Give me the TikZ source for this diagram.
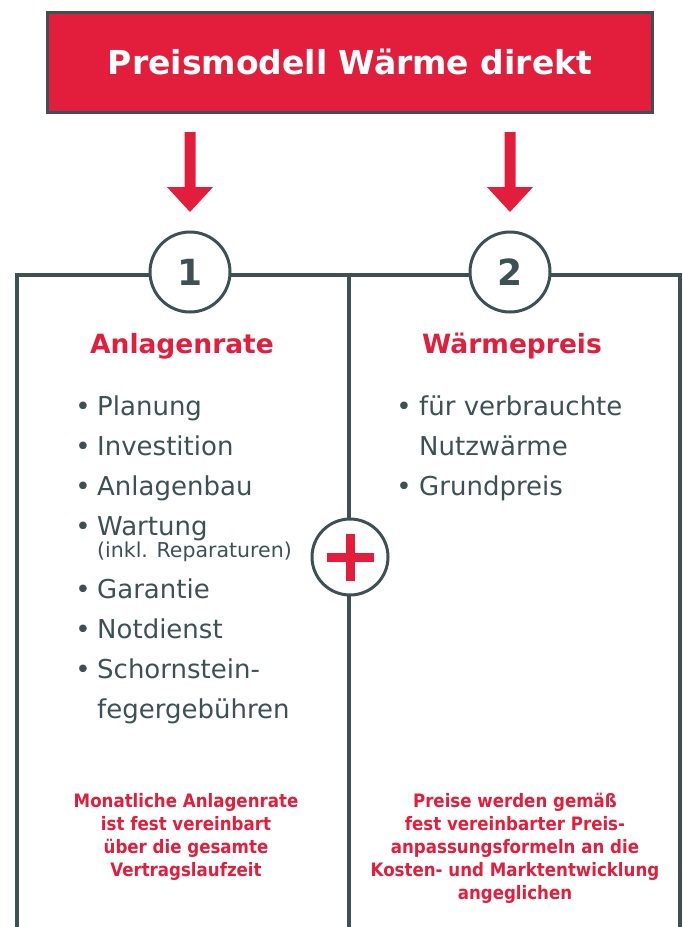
\documentclass[tikz,border=0pt]{standalone}
\usepackage{fontspec}
\setmainfont{DejaVu Sans}
\newfontfamily\condfont{DejaVu Sans Condensed}
\definecolor{wred}{RGB}{227,30,60}
\definecolor{wgrey}{RGB}{62,80,83}
\begin{document}
\begin{tikzpicture}[x=1pt,y=-1pt,
  frameline/.style={draw=wgrey,line width=3.5pt},
  titlebox/.style={draw=wgrey,fill=wred,line width=3pt,minimum width=605pt,minimum height=100pt,inner sep=0pt},
  titletext/.style={text=white,font=\bfseries\fontsize{33}{38}\selectfont,inner sep=0pt,anchor=base},
  numcirc/.style={circle,draw=wgrey,fill=white,line width=3pt,minimum size=80pt,inner sep=0pt,text=wgrey,font=\bfseries\fontsize{36}{40}\selectfont},
  pluscirc/.style={circle,draw=wgrey,fill=white,line width=3pt,minimum size=76pt,inner sep=0pt},
  head/.style={text=wred,font=\bfseries\fontsize{26.5}{30}\selectfont,inner sep=0pt,anchor=base},
  item/.style={text=wgrey,font=\fontsize{26}{30}\selectfont,inner sep=0pt,anchor=base west},
  smallitem/.style={text=wgrey,font=\fontsize{20.5}{22}\selectfont,inner sep=0pt,anchor=base west},
  bul/.style={text=wgrey,font=\fontsize{26}{30}\selectfont,inner sep=0pt,anchor=base},
  note/.style={text=wred,font=\condfont\bfseries\fontsize{18.5}{23}\selectfont,align=center,inner sep=0pt,anchor=base},
  arrowshape/.style={fill=wred,draw=none}
]
\useasboundingbox (0,0) rectangle (683,927);
% title
\node[titlebox] (title) at (349.5,62) {};
\node[titletext] (titlet) at (350,74) {Preismodell Wärme direkt};
% arrows
\coordinate (a1) at (190,132);
\coordinate (a2) at (510,132);
\foreach \a in {a1,a2}{
  \fill[arrowshape] ([xshift=-5.5pt]\a) -- ([xshift=5.5pt]\a) -- ([xshift=5.5pt,yshift=-55pt]\a) -- ([xshift=23pt,yshift=-55pt]\a) -- ([yshift=-80pt]\a) -- ([xshift=-23pt,yshift=-55pt]\a) -- ([xshift=-5.5pt,yshift=-55pt]\a) -- cycle;
}
% frame
\draw[frameline] (17,927) -- (17,275) -- (680,275) -- (680,927);
\draw[frameline] (349,275) -- (349,927);
% number circles
\node[numcirc] (c1) at (190,272) {1};
\node[numcirc] (c2) at (510,272) {2};
% plus
\node[pluscirc] (plus) at (350,557) {};
\draw[wred,line width=9pt] ([xshift=-23.5pt]plus.center) -- ([xshift=23.5pt]plus.center);
\draw[wred,line width=9pt] ([yshift=-23.5pt]plus.center) -- ([yshift=23.5pt]plus.center);
% headers
\node[head] (h1) at (182,353) {Anlagenrate};
\node[head] (h2) at (512,353) {Wärmepreis};
% left items
\node[bul] (b1) at (83,415) {•};
\node[item] (l1) at (97,415) {Planung};
\node[bul] (b2) at (83,455) {•};
\node[item] (l2) at (97,455) {Investition};
\node[bul] (b3) at (83,495) {•};
\node[item] (l3) at (97,495) {Anlagenbau};
\node[bul] (b4) at (83,535) {•};
\node[item] (l4) at (97,535) {Wartung};
\node[smallitem] (l4b) at (97,557) {(inkl. Reparaturen)};
\node[bul] (b5) at (83,598) {•};
\node[item] (l5) at (97,598) {Garantie};
\node[bul] (b6) at (83,638) {•};
\node[item] (l6) at (97,638) {Notdienst};
\node[bul] (b7) at (83,678) {•};
\node[item] (l7) at (97,678) {Schornstein-};
\node[item] (l7b) at (97,718) {fegergebühren};
% right items
\node[bul] (r1b) at (404,415) {•};
\node[item] (r1) at (419,415) {für verbrauchte};
\node[item] (r1c) at (419,455) {Nutzwärme};
\node[bul] (r2b) at (404,495) {•};
\node[item] (r2) at (419,495) {Grundpreis};
% notes (base anchor = baseline of last line)
\node[note] (n1) at (186,876) {Monatliche Anlagenrate\\ist fest vereinbart\\über die gesamte\\Vertragslaufzeit};
\node[note] (n2) at (515,899) {Preise werden gemäß\\fest vereinbarter Preis-\\anpassungsformeln an die\\Kosten- und Marktentwicklung\\angeglichen};
\end{tikzpicture}
\end{document}
